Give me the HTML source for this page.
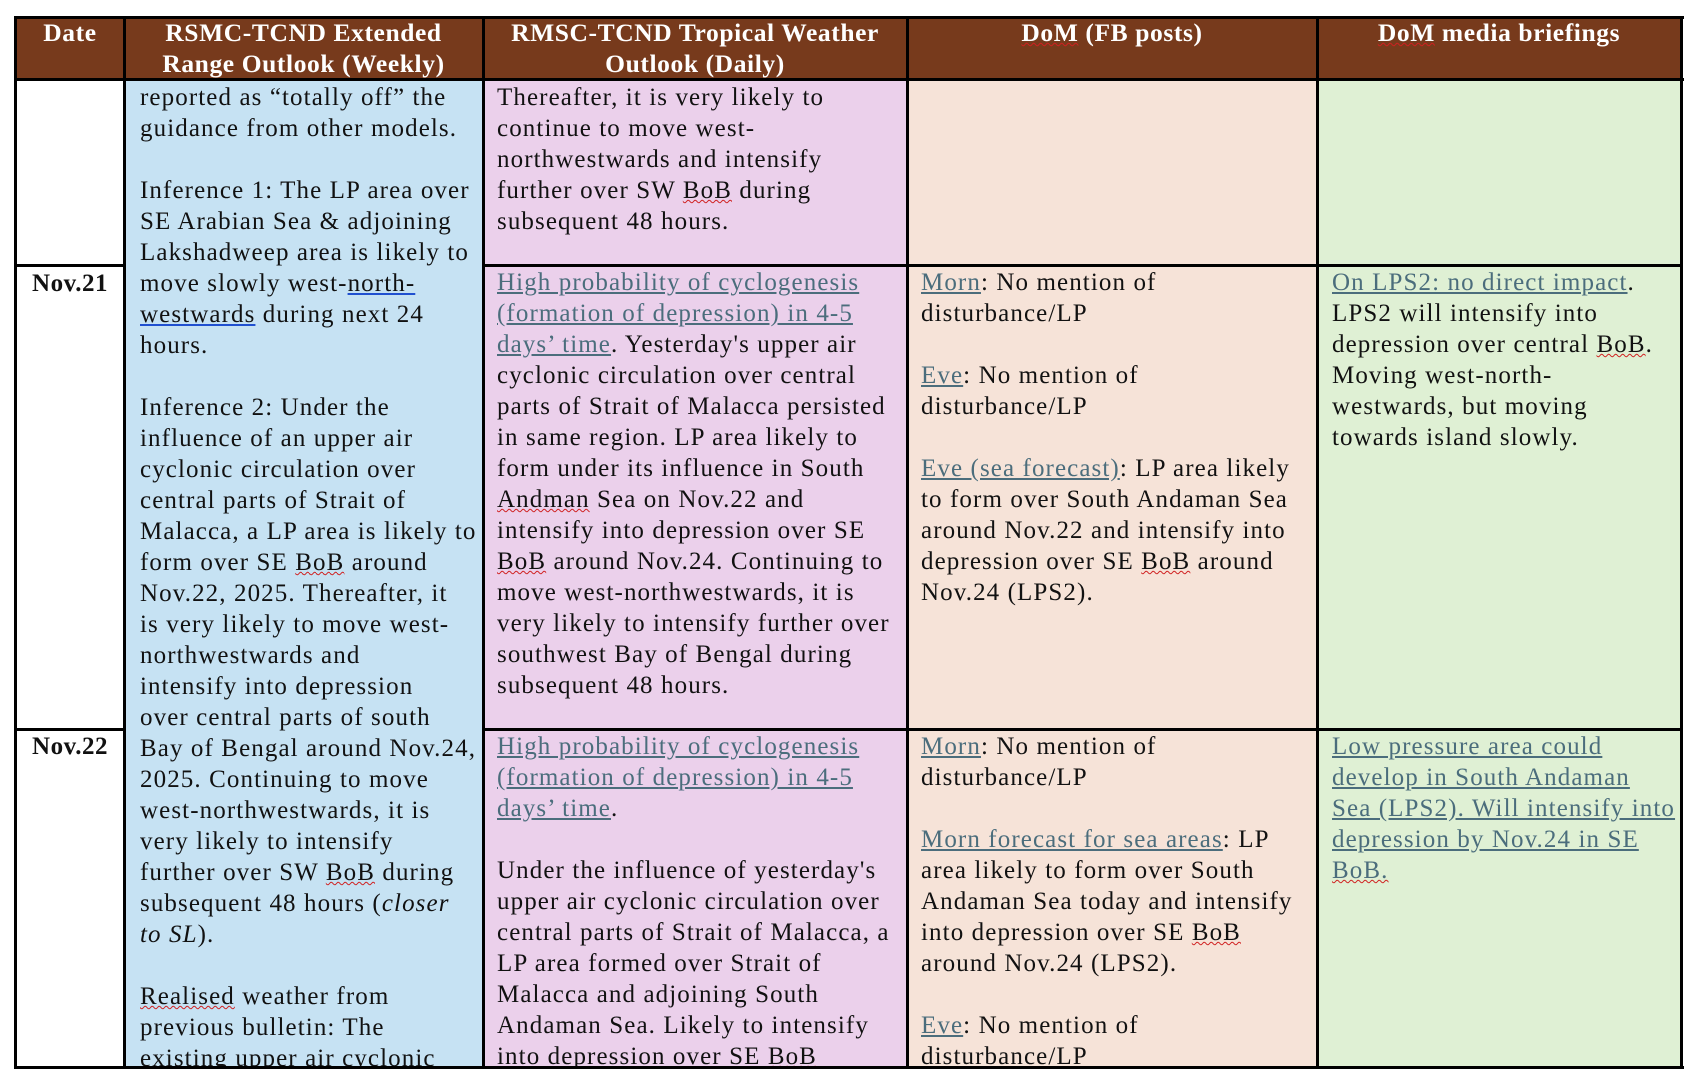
<!DOCTYPE html>
<html><head><meta charset="utf-8"><style>
*{margin:0;padding:0;box-sizing:border-box}
body{width:1692px;height:1080px;background:#fff;position:relative;overflow:hidden;font-family:"Liberation Serif",serif;font-size:25px;color:#111}
.c{position:absolute;overflow:hidden}
.t{position:absolute;line-height:31px;white-space:nowrap;letter-spacing:1.1px}
.hd{color:#fff;font-weight:bold;text-align:center;letter-spacing:0.6px;font-size:25.5px}
.h{background:#773a1c}
.l{color:#4b6d7c;text-decoration:underline}
.w{text-decoration:underline wavy #d02020;text-decoration-thickness:1px}
.u{text-decoration:underline #2050d0}
.vl{position:absolute;background:#000;width:3px}
.hl{position:absolute;background:#000;height:3px}
</style></head><body>
<div class="c h" style="left:16px;top:17px;width:1665px;height:62px"></div>
<div class="c" style="left:124px;top:79px;width:359px;height:988px;background:#c6e2f3"></div>
<div class="c" style="left:483px;top:79px;width:424px;height:988px;background:#ebd0eb"></div>
<div class="c" style="left:907px;top:79px;width:410px;height:988px;background:#f6e3d8"></div>
<div class="c" style="left:1317px;top:79px;width:364px;height:988px;background:#dff0d4"></div>
<div class="t hd" style="left:16px;top:17px;width:108px">Date</div>
<div class="t hd" style="left:124px;top:17px;width:359px">RSMC-TCND Extended<br>Range Outlook (Weekly)</div>
<div class="t hd" style="left:483px;top:17px;width:424px">RMSC-TCND Tropical Weather<br>Outlook (Daily)</div>
<div class="t hd" style="left:907px;top:17px;width:410px"><span class="w">DoM</span> (FB posts)</div>
<div class="t hd" style="left:1317px;top:17px;width:364px"><span class="w">DoM</span> media briefings</div>
<div class="t" style="left:16px;top:268px;width:108px;text-align:center;font-weight:bold;letter-spacing:0.5px">Nov.21</div>
<div class="t" style="left:16px;top:731px;width:108px;text-align:center;font-weight:bold;letter-spacing:0.5px">Nov.22</div>
<div class="c" style="left:124px;top:79px;width:359px;height:988px">
<div class="t" style="left:16px;top:3px">reported as “totally off” the<br>guidance from other models.<br><br>Inference 1: The LP area over<br>SE Arabian Sea &amp; adjoining<br>Lakshadweep area is likely to<br>move slowly west-<span class="u">north-</span><br><span class="u">westwards</span> during next 24<br>hours.<br><br>Inference 2: Under the<br>influence of an upper air<br>cyclonic circulation over<br>central parts of Strait of<br>Malacca, a LP area is likely to<br>form over SE <span class="w">BoB</span> around<br>Nov.22, 2025. Thereafter, it<br>is very likely to move west-<br>northwestwards and<br>intensify into depression<br>over central parts of south<br>Bay of Bengal around Nov.24,<br>2025. Continuing to move<br>west-northwestwards, it is<br>very likely to intensify<br>further over SW <span class="w">BoB</span> during<br>subsequent 48 hours (<i>closer</i><br><i>to SL</i>).<br><br><span class="w">Realised</span> weather from<br>previous bulletin: The<br>existing upper air cyclonic</div></div>
<div class="c" style="left:483px;top:79px;width:424px;height:186px">
<div class="t" style="left:14px;top:3px">Thereafter, it is very likely to<br>continue to move west-<br>northwestwards and intensify<br>further over SW <span class="w">BoB</span> during<br>subsequent 48 hours.</div></div>
<div class="c" style="left:483px;top:265px;width:424px;height:464px">
<div class="t" style="left:14px;top:2px"><span class="l">High probability of cyclogenesis</span><br><span class="l">(formation of depression) in 4-5</span><br><span class="l">days’ time</span>. Yesterday's upper air<br>cyclonic circulation over central<br>parts of Strait of Malacca persisted<br>in same region. LP area likely to<br>form under its influence in South<br><span class="w">Andman</span> Sea on Nov.22 and<br>intensify into depression over SE<br><span class="w">BoB</span> around Nov.24. Continuing to<br>move west-northwestwards, it is<br>very likely to intensify further over<br>southwest Bay of Bengal during<br>subsequent 48 hours.</div></div>
<div class="c" style="left:483px;top:729px;width:424px;height:338px">
<div class="t" style="left:14px;top:2px"><span class="l">High probability of cyclogenesis</span><br><span class="l">(formation of depression) in 4-5</span><br><span class="l">days’ time</span>.<br><br>Under the influence of yesterday's<br>upper air cyclonic circulation over<br>central parts of Strait of Malacca, a<br>LP area formed over Strait of<br>Malacca and adjoining South<br>Andaman Sea. Likely to intensify<br>into depression over SE <span class="w">BoB</span></div></div>
<div class="c" style="left:907px;top:265px;width:410px;height:464px">
<div class="t" style="left:14px;top:2px"><span class="l">Morn</span>: No mention of<br>disturbance/LP<br><br><span class="l">Eve</span>: No mention of<br>disturbance/LP<br><br><span class="l">Eve (sea forecast)</span>: LP area likely<br>to form over South Andaman Sea<br>around Nov.22 and intensify into<br>depression over SE <span class="w">BoB</span> around<br>Nov.24 (LPS2).</div></div>
<div class="c" style="left:907px;top:729px;width:410px;height:338px">
<div class="t" style="left:14px;top:2px"><span class="l">Morn</span>: No mention of<br>disturbance/LP<br><br><span class="l">Morn forecast for sea areas</span>: LP<br>area likely to form over South<br>Andaman Sea today and intensify<br>into depression over SE <span class="w">BoB</span><br>around Nov.24 (LPS2).<br><br><span class="l">Eve</span>: No mention of<br>disturbance/LP</div></div>
<div class="c" style="left:1317px;top:265px;width:364px;height:464px">
<div class="t" style="left:15px;top:2px"><span class="l">On LPS2: no direct impact</span>.<br>LPS2 will intensify into<br>depression over central <span class="w">BoB</span>.<br>Moving west-north-<br>westwards, but moving<br>towards island slowly.</div></div>
<div class="c" style="left:1317px;top:729px;width:364px;height:338px">
<div class="t" style="left:15px;top:2px"><span class="l">Low pressure area could</span><br><span class="l">develop in South Andaman</span><br><span class="l">Sea (LPS2). Will intensify into</span><br><span class="l">depression by Nov.24 in SE</span><br><span class="l w">BoB.</span></div></div>
<div class="hl" style="left:14px;top:16px;width:1670px"></div>
<div class="hl" style="left:14px;top:78px;width:1670px"></div>
<div class="hl" style="left:14px;top:264px;width:110px"></div>
<div class="hl" style="left:483px;top:264px;width:1200px"></div>
<div class="hl" style="left:14px;top:728px;width:110px"></div>
<div class="hl" style="left:483px;top:728px;width:1200px"></div>
<div class="hl" style="left:14px;top:1066px;width:1670px"></div>
<div class="vl" style="left:14px;top:16px;height:1053px"></div>
<div class="vl" style="left:123px;top:16px;height:1053px"></div>
<div class="vl" style="left:482px;top:16px;height:1053px"></div>
<div class="vl" style="left:906px;top:16px;height:1053px"></div>
<div class="vl" style="left:1316px;top:16px;height:1053px"></div>
<div class="vl" style="left:1680px;top:16px;height:1053px"></div>
</body></html>
